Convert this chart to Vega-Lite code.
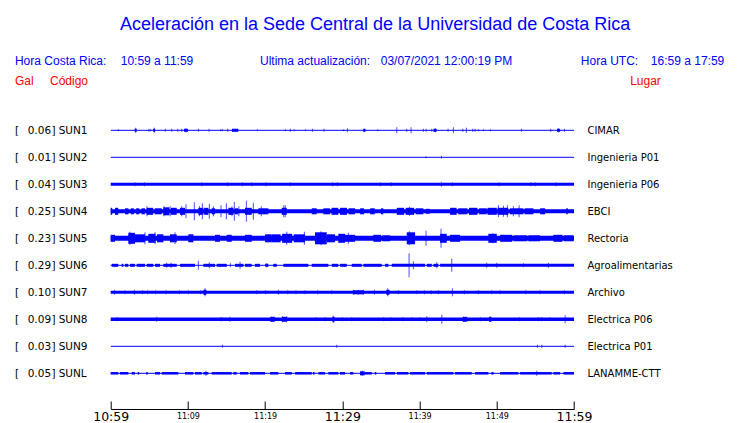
{
  "$schema": "https://vega.github.io/schema/vega-lite/v6.json",
  "width": 463.3,
  "height": 409,
  "autosize": "none",
  "padding": {"left": 110.7, "top": 0, "right": 166, "bottom": 14},
  "background": "white",
  "config": {"view": {"stroke": null}, "axis": {"grid": false}},
  "datasets": {
    "st": [
      {"s": "SUN1", "r": 1, "g": 0.06, "l": "CIMAR"},
      {"s": "SUN2", "r": 2, "g": 0.01, "l": "Ingenieria P01"},
      {"s": "SUN3", "r": 3, "g": 0.04, "l": "Ingenieria P06"},
      {"s": "SUN4", "r": 4, "g": 0.25, "l": "EBCI"},
      {"s": "SUN5", "r": 5, "g": 0.23, "l": "Rectoria"},
      {"s": "SUN6", "r": 6, "g": 0.29, "l": "Agroalimentarias"},
      {"s": "SUN7", "r": 7, "g": 0.10, "l": "Archivo"},
      {"s": "SUN8", "r": 8, "g": 0.09, "l": "Electrica P06"},
      {"s": "SUN9", "r": 9, "g": 0.03, "l": "Electrica P01"},
      {"s": "SUNL", "r": 10, "g": 0.05, "l": "LANAMME-CTT"}
    ],
    "seg": [
      {"s": "SUN1", "t0": 0, "t1": 60, "a": 1},
      {"s": "SUN1", "t0": 9.5, "t1": 10.0, "a": 3},
      {"s": "SUN1", "t0": 15.7, "t1": 16.5, "a": 3},
      {"s": "SUN1", "t0": 32.7, "t1": 33.0, "a": 3},
      {"s": "SUN1", "t0": 41.8, "t1": 42.2, "a": 3},
      {"s": "SUN1", "t0": 57.8, "t1": 58.2, "a": 3},
      {"s": "SUN1", "t0": 3.1, "t1": 3.35, "a": 3},
      {"s": "SUN1", "t0": 5.5, "t1": 5.75, "a": 3},
      {"s": "SUN2", "t0": 0, "t1": 60, "a": 1},
      {"s": "SUN3", "t0": 0, "t1": 60, "a": 3},
      {"s": "SUN4", "t0": 0, "t1": 60, "a": 4},
      {"s": "SUN4", "t0": 0, "t1": 0.2, "a": 7},
      {"s": "SUN4", "t0": 0.56, "t1": 0.98, "a": 7},
      {"s": "SUN4", "t0": 1.85, "t1": 2.3, "a": 6},
      {"s": "SUN4", "t0": 2.6, "t1": 3.0, "a": 6},
      {"s": "SUN4", "t0": 3.3, "t1": 3.7, "a": 6},
      {"s": "SUN4", "t0": 4.0, "t1": 4.44, "a": 6},
      {"s": "SUN4", "t0": 4.66, "t1": 5.5, "a": 7},
      {"s": "SUN4", "t0": 5.7, "t1": 6.61, "a": 6},
      {"s": "SUN4", "t0": 6.82, "t1": 7.6, "a": 8},
      {"s": "SUN4", "t0": 7.8, "t1": 8.55, "a": 7},
      {"s": "SUN4", "t0": 8.98, "t1": 9.62, "a": 7},
      {"s": "SUN4", "t0": 11.35, "t1": 12.0, "a": 7},
      {"s": "SUN4", "t0": 12.1, "t1": 12.65, "a": 7},
      {"s": "SUN4", "t0": 13.08, "t1": 13.51, "a": 6},
      {"s": "SUN4", "t0": 15.24, "t1": 15.9, "a": 7},
      {"s": "SUN4", "t0": 16.1, "t1": 16.53, "a": 6},
      {"s": "SUN4", "t0": 17.40, "t1": 18.26, "a": 7},
      {"s": "SUN4", "t0": 19.12, "t1": 20.42, "a": 6},
      {"s": "SUN4", "t0": 22.15, "t1": 22.80, "a": 7},
      {"s": "SUN4", "t0": 26.04, "t1": 26.68, "a": 6},
      {"s": "SUN4", "t0": 27.54, "t1": 28.4, "a": 6},
      {"s": "SUN4", "t0": 28.6, "t1": 29.48, "a": 7},
      {"s": "SUN4", "t0": 29.70, "t1": 30.6, "a": 7},
      {"s": "SUN4", "t0": 30.8, "t1": 31.65, "a": 6},
      {"s": "SUN4", "t0": 32.3, "t1": 32.8, "a": 6},
      {"s": "SUN4", "t0": 33.6, "t1": 34.2, "a": 6},
      {"s": "SUN4", "t0": 35.0, "t1": 35.3, "a": 6},
      {"s": "SUN4", "t0": 37.05, "t1": 38.0, "a": 7},
      {"s": "SUN4", "t0": 38.2, "t1": 39.3, "a": 7},
      {"s": "SUN4", "t0": 39.5, "t1": 40.49, "a": 6},
      {"s": "SUN4", "t0": 40.8, "t1": 41.3, "a": 5},
      {"s": "SUN4", "t0": 43.95, "t1": 44.8, "a": 7},
      {"s": "SUN4", "t0": 45.0, "t1": 46.2, "a": 6},
      {"s": "SUN4", "t0": 46.4, "t1": 47.5, "a": 7},
      {"s": "SUN4", "t0": 47.7, "t1": 48.7, "a": 6},
      {"s": "SUN4", "t0": 48.8, "t1": 50.0, "a": 7},
      {"s": "SUN4", "t0": 50.1, "t1": 51.5, "a": 7},
      {"s": "SUN4", "t0": 51.7, "t1": 53.45, "a": 6},
      {"s": "SUN4", "t0": 53.6, "t1": 54.74, "a": 6},
      {"s": "SUN4", "t0": 55.61, "t1": 56.26, "a": 6},
      {"s": "SUN4", "t0": 59.0, "t1": 59.2, "a": 6},
      {"s": "SUN5", "t0": 0, "t1": 60, "a": 5},
      {"s": "SUN5", "t0": 0, "t1": 0.56, "a": 7},
      {"s": "SUN5", "t0": 2.28, "t1": 3.15, "a": 11},
      {"s": "SUN5", "t0": 3.15, "t1": 4.44, "a": 8},
      {"s": "SUN5", "t0": 4.87, "t1": 5.8, "a": 9},
      {"s": "SUN5", "t0": 6.0, "t1": 6.82, "a": 8},
      {"s": "SUN5", "t0": 7.68, "t1": 8.55, "a": 8},
      {"s": "SUN5", "t0": 10.05, "t1": 10.70, "a": 8},
      {"s": "SUN5", "t0": 13.51, "t1": 14.16, "a": 7},
      {"s": "SUN5", "t0": 15.03, "t1": 15.67, "a": 7},
      {"s": "SUN5", "t0": 17.40, "t1": 18.26, "a": 7},
      {"s": "SUN5", "t0": 19.99, "t1": 20.85, "a": 8},
      {"s": "SUN5", "t0": 20.85, "t1": 22.0, "a": 8},
      {"s": "SUN5", "t0": 22.2, "t1": 23.5, "a": 9},
      {"s": "SUN5", "t0": 23.7, "t1": 25.17, "a": 8},
      {"s": "SUN5", "t0": 26.46, "t1": 27.98, "a": 12},
      {"s": "SUN5", "t0": 27.98, "t1": 29.05, "a": 8},
      {"s": "SUN5", "t0": 29.48, "t1": 30.35, "a": 9},
      {"s": "SUN5", "t0": 30.35, "t1": 31.65, "a": 7},
      {"s": "SUN5", "t0": 34.02, "t1": 35.0, "a": 7},
      {"s": "SUN5", "t0": 35.2, "t1": 36.18, "a": 6},
      {"s": "SUN5", "t0": 38.34, "t1": 39.42, "a": 12},
      {"s": "SUN5", "t0": 42.66, "t1": 43.52, "a": 9},
      {"s": "SUN5", "t0": 43.95, "t1": 45.25, "a": 7},
      {"s": "SUN5", "t0": 48.91, "t1": 50.0, "a": 9},
      {"s": "SUN5", "t0": 50.43, "t1": 52.0, "a": 7},
      {"s": "SUN5", "t0": 52.2, "t1": 53.89, "a": 6},
      {"s": "SUN5", "t0": 54.1, "t1": 55.61, "a": 6},
      {"s": "SUN5", "t0": 57.33, "t1": 58.5, "a": 7},
      {"s": "SUN5", "t0": 58.7, "t1": 59.92, "a": 6},
      {"s": "SUN6", "t0": 0, "t1": 60, "a": 1},
      {"s": "SUN6", "t0": 0.13, "t1": 0.98, "a": 3},
      {"s": "SUN6", "t0": 1.42, "t1": 1.64, "a": 3},
      {"s": "SUN6", "t0": 1.85, "t1": 2.28, "a": 3},
      {"s": "SUN6", "t0": 2.50, "t1": 3.15, "a": 3},
      {"s": "SUN6", "t0": 3.37, "t1": 4.44, "a": 3},
      {"s": "SUN6", "t0": 4.66, "t1": 5.52, "a": 3},
      {"s": "SUN6", "t0": 5.74, "t1": 6.39, "a": 3},
      {"s": "SUN6", "t0": 6.82, "t1": 8.55, "a": 3},
      {"s": "SUN6", "t0": 8.98, "t1": 10.92, "a": 3},
      {"s": "SUN6", "t0": 12.00, "t1": 13.51, "a": 3},
      {"s": "SUN6", "t0": 13.73, "t1": 15.03, "a": 3},
      {"s": "SUN6", "t0": 16.10, "t1": 17.18, "a": 3},
      {"s": "SUN6", "t0": 17.40, "t1": 18.26, "a": 3},
      {"s": "SUN6", "t0": 18.69, "t1": 19.34, "a": 3},
      {"s": "SUN6", "t0": 19.99, "t1": 20.42, "a": 3},
      {"s": "SUN6", "t0": 21.06, "t1": 21.50, "a": 3},
      {"s": "SUN6", "t0": 22.36, "t1": 25.60, "a": 3},
      {"s": "SUN6", "t0": 26.04, "t1": 28.19, "a": 3},
      {"s": "SUN6", "t0": 28.63, "t1": 29.48, "a": 3},
      {"s": "SUN6", "t0": 29.70, "t1": 30.57, "a": 3},
      {"s": "SUN6", "t0": 31.22, "t1": 32.51, "a": 3},
      {"s": "SUN6", "t0": 32.72, "t1": 35.10, "a": 3},
      {"s": "SUN6", "t0": 35.53, "t1": 35.96, "a": 3},
      {"s": "SUN6", "t0": 36.40, "t1": 40.71, "a": 3},
      {"s": "SUN6", "t0": 40.93, "t1": 41.58, "a": 3},
      {"s": "SUN6", "t0": 41.80, "t1": 42.44, "a": 3},
      {"s": "SUN6", "t0": 42.66, "t1": 60, "a": 3},
      {"s": "SUN7", "t0": 0, "t1": 60, "a": 3},
      {"s": "SUN7", "t0": 12.0, "t1": 12.4, "a": 5},
      {"s": "SUN7", "t0": 31.4, "t1": 32.8, "a": 4},
      {"s": "SUN7", "t0": 35.7, "t1": 36.1, "a": 5},
      {"s": "SUN8", "t0": 0, "t1": 60, "a": 3.5},
      {"s": "SUN8", "t0": 20.7, "t1": 21.2, "a": 5},
      {"s": "SUN8", "t0": 22.2, "t1": 22.8, "a": 5},
      {"s": "SUN8", "t0": 28.7, "t1": 29.0, "a": 5},
      {"s": "SUN8", "t0": 45.6, "t1": 46.1, "a": 5},
      {"s": "SUN8", "t0": 49.0, "t1": 49.3, "a": 5},
      {"s": "SUN9", "t0": 0, "t1": 60, "a": 1},
      {"s": "SUNL", "t0": 0, "t1": 60, "a": 1},
      {"s": "SUNL", "t0": 0, "t1": 0.98, "a": 2.5},
      {"s": "SUNL", "t0": 1.20, "t1": 2.28, "a": 2.5},
      {"s": "SUNL", "t0": 2.72, "t1": 3.15, "a": 2.5},
      {"s": "SUNL", "t0": 3.5, "t1": 3.7, "a": 2.5},
      {"s": "SUNL", "t0": 4.6, "t1": 4.8, "a": 2.5},
      {"s": "SUNL", "t0": 5.74, "t1": 6.39, "a": 2.5},
      {"s": "SUNL", "t0": 6.61, "t1": 8.76, "a": 2.5},
      {"s": "SUNL", "t0": 9.62, "t1": 10.70, "a": 2.5},
      {"s": "SUNL", "t0": 10.92, "t1": 11.79, "a": 2.5},
      {"s": "SUNL", "t0": 12.00, "t1": 12.65, "a": 2.5},
      {"s": "SUNL", "t0": 13.08, "t1": 15.67, "a": 2.5},
      {"s": "SUNL", "t0": 15.88, "t1": 16.32, "a": 2.5},
      {"s": "SUNL", "t0": 16.75, "t1": 17.82, "a": 2.5},
      {"s": "SUNL", "t0": 18.04, "t1": 19.99, "a": 2.5},
      {"s": "SUNL", "t0": 20.64, "t1": 21.71, "a": 2.5},
      {"s": "SUNL", "t0": 22.58, "t1": 23.45, "a": 2.5},
      {"s": "SUNL", "t0": 23.87, "t1": 26.04, "a": 2.5},
      {"s": "SUNL", "t0": 26.2, "t1": 26.4, "a": 2.5},
      {"s": "SUNL", "t0": 26.89, "t1": 27.76, "a": 2.5},
      {"s": "SUNL", "t0": 28.19, "t1": 29.48, "a": 2.5},
      {"s": "SUNL", "t0": 29.70, "t1": 30.35, "a": 2.5},
      {"s": "SUNL", "t0": 31.00, "t1": 31.43, "a": 2.5},
      {"s": "SUNL", "t0": 32.29, "t1": 32.9, "a": 4},
      {"s": "SUNL", "t0": 32.9, "t1": 33.81, "a": 2.5},
      {"s": "SUNL", "t0": 34.2, "t1": 34.4, "a": 2.5},
      {"s": "SUNL", "t0": 35.53, "t1": 36.83, "a": 2.5},
      {"s": "SUNL", "t0": 37.05, "t1": 38.55, "a": 2.5},
      {"s": "SUNL", "t0": 38.77, "t1": 40.71, "a": 2.5},
      {"s": "SUNL", "t0": 40.93, "t1": 44.38, "a": 2.5},
      {"s": "SUNL", "t0": 44.60, "t1": 46.76, "a": 2.5},
      {"s": "SUNL", "t0": 47.19, "t1": 48.91, "a": 2.5},
      {"s": "SUNL", "t0": 49.3, "t1": 49.6, "a": 2.5},
      {"s": "SUNL", "t0": 50.43, "t1": 52.80, "a": 2.5},
      {"s": "SUNL", "t0": 53.02, "t1": 57.12, "a": 2.5},
      {"s": "SUNL", "t0": 57.33, "t1": 58.20, "a": 2.5},
      {"s": "SUNL", "t0": 58.63, "t1": 60, "a": 2.5}
    ],
    "spk": [
      {"s": "SUN1", "t": 0.98, "a": 2}, {"s": "SUN1", "t": 3.24, "a": 5}, {"s": "SUN1", "t": 4.96, "a": 3}, {"s": "SUN1", "t": 5.18, "a": 2},
      {"s": "SUN1", "t": 5.65, "a": 5}, {"s": "SUN1", "t": 7.07, "a": 3}, {"s": "SUN1", "t": 7.90, "a": 3}, {"s": "SUN1", "t": 8.68, "a": 3},
      {"s": "SUN1", "t": 9.20, "a": 3}, {"s": "SUN1", "t": 9.75, "a": 4}, {"s": "SUN1", "t": 11.35, "a": 3}, {"s": "SUN1", "t": 12.73, "a": 3},
      {"s": "SUN1", "t": 14.25, "a": 2}, {"s": "SUN1", "t": 14.46, "a": 2}, {"s": "SUN1", "t": 15.15, "a": 3}, {"s": "SUN1", "t": 15.80, "a": 3},
      {"s": "SUN1", "t": 16.10, "a": 3}, {"s": "SUN1", "t": 16.45, "a": 3}, {"s": "SUN1", "t": 18.99, "a": 2}, {"s": "SUN1", "t": 22.62, "a": 2},
      {"s": "SUN1", "t": 23.26, "a": 3}, {"s": "SUN1", "t": 23.74, "a": 2}, {"s": "SUN1", "t": 25.21, "a": 2}, {"s": "SUN1", "t": 26.12, "a": 3},
      {"s": "SUN1", "t": 27.63, "a": 3}, {"s": "SUN1", "t": 30.18, "a": 2}, {"s": "SUN1", "t": 30.65, "a": 4}, {"s": "SUN1", "t": 32.85, "a": 3},
      {"s": "SUN1", "t": 34.59, "a": 2}, {"s": "SUN1", "t": 37.05, "a": 6}, {"s": "SUN1", "t": 38.34, "a": 3}, {"s": "SUN1", "t": 38.90, "a": 6},
      {"s": "SUN1", "t": 40.49, "a": 3}, {"s": "SUN1", "t": 40.84, "a": 3}, {"s": "SUN1", "t": 41.58, "a": 3}, {"s": "SUN1", "t": 42.05, "a": 4},
      {"s": "SUN1", "t": 43.69, "a": 3}, {"s": "SUN1", "t": 44.38, "a": 6}, {"s": "SUN1", "t": 45.60, "a": 3}, {"s": "SUN1", "t": 46.06, "a": 5},
      {"s": "SUN1", "t": 46.89, "a": 3}, {"s": "SUN1", "t": 47.19, "a": 3}, {"s": "SUN1", "t": 47.62, "a": 2}, {"s": "SUN1", "t": 48.27, "a": 2},
      {"s": "SUN1", "t": 49.17, "a": 2}, {"s": "SUN1", "t": 53.19, "a": 3}, {"s": "SUN1", "t": 56.99, "a": 3}, {"s": "SUN1", "t": 57.98, "a": 4},
      {"s": "SUN1", "t": 58.76, "a": 3},
      {"s": "SUN2", "t": 40.84, "a": 2}, {"s": "SUN2", "t": 42.83, "a": 3},
      {"s": "SUN3", "t": 3.15, "a": 4}, {"s": "SUN3", "t": 4.36, "a": 4}, {"s": "SUN3", "t": 11.79, "a": 4}, {"s": "SUN3", "t": 15.15, "a": 4},
      {"s": "SUN3", "t": 17.05, "a": 4}, {"s": "SUN3", "t": 18.26, "a": 4}, {"s": "SUN3", "t": 20.12, "a": 4}, {"s": "SUN3", "t": 23.26, "a": 4},
      {"s": "SUN3", "t": 28.75, "a": 4}, {"s": "SUN3", "t": 29.35, "a": 4}, {"s": "SUN3", "t": 34.92, "a": 4}, {"s": "SUN3", "t": 36.31, "a": 4},
      {"s": "SUN3", "t": 42.83, "a": 5}, {"s": "SUN3", "t": 44.25, "a": 4}, {"s": "SUN3", "t": 50.30, "a": 4}, {"s": "SUN3", "t": 54.44, "a": 4},
      {"s": "SUN3", "t": 54.96, "a": 4}, {"s": "SUN3", "t": 57.64, "a": 4},
      {"s": "SUN4", "t": 4.7, "a": 10}, {"s": "SUN4", "t": 6.9, "a": 10}, {"s": "SUN4", "t": 7.7, "a": 10}, {"s": "SUN4", "t": 9.2, "a": 10},
      {"s": "SUN4", "t": 9.75, "a": 14}, {"s": "SUN4", "t": 10.83, "a": 18}, {"s": "SUN4", "t": 11.5, "a": 10}, {"s": "SUN4", "t": 11.87, "a": 16},
      {"s": "SUN4", "t": 12.77, "a": 15}, {"s": "SUN4", "t": 13.3, "a": 10}, {"s": "SUN4", "t": 14.29, "a": 12}, {"s": "SUN4", "t": 14.98, "a": 16},
      {"s": "SUN4", "t": 15.7, "a": 10}, {"s": "SUN4", "t": 16.01, "a": 19}, {"s": "SUN4", "t": 16.6, "a": 10}, {"s": "SUN4", "t": 17.57, "a": 21},
      {"s": "SUN4", "t": 18.47, "a": 17}, {"s": "SUN4", "t": 19.5, "a": 10}, {"s": "SUN4", "t": 22.41, "a": 12}, {"s": "SUN4", "t": 22.6, "a": 12},
      {"s": "SUN4", "t": 38.68, "a": 9}, {"s": "SUN4", "t": 50.21, "a": 12}, {"s": "SUN4", "t": 50.86, "a": 11}, {"s": "SUN4", "t": 51.37, "a": 12},
      {"s": "SUN4", "t": 52.15, "a": 10}, {"s": "SUN4", "t": 52.89, "a": 12},
      {"s": "SUN5", "t": 2.50, "a": 13}, {"s": "SUN5", "t": 4.44, "a": 12}, {"s": "SUN5", "t": 5.74, "a": 12}, {"s": "SUN5", "t": 8.33, "a": 12},
      {"s": "SUN5", "t": 22.80, "a": 13}, {"s": "SUN5", "t": 25.08, "a": 13}, {"s": "SUN5", "t": 27.24, "a": 14}, {"s": "SUN5", "t": 30.78, "a": 11},
      {"s": "SUN5", "t": 38.68, "a": 14}, {"s": "SUN5", "t": 40.84, "a": 15}, {"s": "SUN5", "t": 42.78, "a": 19}, {"s": "SUN5", "t": 49.48, "a": 10},
      {"s": "SUN6", "t": 7.25, "a": 5}, {"s": "SUN6", "t": 7.81, "a": 5}, {"s": "SUN6", "t": 11.35, "a": 9}, {"s": "SUN6", "t": 12.77, "a": 6},
      {"s": "SUN6", "t": 15.5, "a": 4}, {"s": "SUN6", "t": 16.75, "a": 7}, {"s": "SUN6", "t": 20.2, "a": 4}, {"s": "SUN6", "t": 38.64, "a": 24},
      {"s": "SUN6", "t": 39.20, "a": 8}, {"s": "SUN6", "t": 42.23, "a": 6}, {"s": "SUN6", "t": 44.17, "a": 13}, {"s": "SUN6", "t": 48.70, "a": 5},
      {"s": "SUN6", "t": 50.00, "a": 5}, {"s": "SUN6", "t": 53.45, "a": 4}, {"s": "SUN6", "t": 56.68, "a": 5},
      {"s": "SUN7", "t": 0.47, "a": 5}, {"s": "SUN7", "t": 1.85, "a": 4}, {"s": "SUN7", "t": 3.06, "a": 5}, {"s": "SUN7", "t": 4.10, "a": 4},
      {"s": "SUN7", "t": 4.79, "a": 4}, {"s": "SUN7", "t": 5.83, "a": 4}, {"s": "SUN7", "t": 7.16, "a": 4}, {"s": "SUN7", "t": 8.89, "a": 4},
      {"s": "SUN7", "t": 10.05, "a": 4}, {"s": "SUN7", "t": 11.65, "a": 4}, {"s": "SUN7", "t": 12.21, "a": 8}, {"s": "SUN7", "t": 18.91, "a": 4},
      {"s": "SUN7", "t": 20.07, "a": 4}, {"s": "SUN7", "t": 21.71, "a": 5}, {"s": "SUN7", "t": 22.93, "a": 4}, {"s": "SUN7", "t": 24.00, "a": 4},
      {"s": "SUN7", "t": 25.17, "a": 4}, {"s": "SUN7", "t": 26.81, "a": 4}, {"s": "SUN7", "t": 28.63, "a": 4}, {"s": "SUN7", "t": 31.43, "a": 5},
      {"s": "SUN7", "t": 32.07, "a": 5}, {"s": "SUN7", "t": 32.72, "a": 5}, {"s": "SUN7", "t": 34.15, "a": 5}, {"s": "SUN7", "t": 35.88, "a": 8},
      {"s": "SUN7", "t": 37.26, "a": 4}, {"s": "SUN7", "t": 39.64, "a": 4}, {"s": "SUN7", "t": 40.62, "a": 4}, {"s": "SUN7", "t": 41.49, "a": 4},
      {"s": "SUN7", "t": 42.44, "a": 4}, {"s": "SUN7", "t": 44.25, "a": 8}, {"s": "SUN7", "t": 45.80, "a": 4}, {"s": "SUN7", "t": 47.62, "a": 4},
      {"s": "SUN7", "t": 49.35, "a": 4}, {"s": "SUN7", "t": 50.43, "a": 4}, {"s": "SUN7", "t": 53.76, "a": 4}, {"s": "SUN7", "t": 55.61, "a": 4},
      {"s": "SUN7", "t": 58.76, "a": 4},
      {"s": "SUN8", "t": 0.86, "a": 4}, {"s": "SUN8", "t": 5.96, "a": 5}, {"s": "SUN8", "t": 14.25, "a": 4}, {"s": "SUN8", "t": 14.46, "a": 4},
      {"s": "SUN8", "t": 15.45, "a": 5}, {"s": "SUN8", "t": 20.76, "a": 5}, {"s": "SUN8", "t": 21.19, "a": 5}, {"s": "SUN8", "t": 22.23, "a": 6},
      {"s": "SUN8", "t": 22.80, "a": 6}, {"s": "SUN8", "t": 26.55, "a": 4}, {"s": "SUN8", "t": 27.80, "a": 4}, {"s": "SUN8", "t": 28.83, "a": 7},
      {"s": "SUN8", "t": 30.00, "a": 4}, {"s": "SUN8", "t": 31.22, "a": 4}, {"s": "SUN8", "t": 35.31, "a": 4}, {"s": "SUN8", "t": 36.27, "a": 4},
      {"s": "SUN8", "t": 37.82, "a": 4}, {"s": "SUN8", "t": 38.99, "a": 4}, {"s": "SUN8", "t": 40.07, "a": 4}, {"s": "SUN8", "t": 40.93, "a": 6},
      {"s": "SUN8", "t": 42.88, "a": 9}, {"s": "SUN8", "t": 45.67, "a": 5}, {"s": "SUN8", "t": 46.11, "a": 5}, {"s": "SUN8", "t": 47.88, "a": 4},
      {"s": "SUN8", "t": 49.13, "a": 5}, {"s": "SUN8", "t": 52.93, "a": 4}, {"s": "SUN8", "t": 55.39, "a": 4}, {"s": "SUN8", "t": 55.83, "a": 4},
      {"s": "SUN8", "t": 56.90, "a": 4}, {"s": "SUN8", "t": 58.85, "a": 8},
      {"s": "SUN9", "t": 14.46, "a": 3}, {"s": "SUN9", "t": 29.27, "a": 3}, {"s": "SUN9", "t": 55.26, "a": 3}, {"s": "SUN9", "t": 55.83, "a": 3},
      {"s": "SUN9", "t": 58.85, "a": 3},
      {"s": "SUNL", "t": 12.34, "a": 5}, {"s": "SUNL", "t": 32.59, "a": 5}, {"s": "SUNL", "t": 55.18, "a": 5}
    ]
  },
  "layer": [
    {
      "data": {"name": "seg"},
      "transform": [{"lookup": "s", "from": {"data": {"name": "st"}, "key": "s", "fields": ["r"]}}],
      "mark": {"type": "rule", "color": "#0000ff", "strokeCap": "butt"},
      "encoding": {
        "x": {
          "field": "t0", "type": "quantitative",
          "scale": {"domain": [0, 60], "nice": false, "zero": false},
          "axis": {
            "values": [0, 5, 10, 15, 20, 25, 30, 35, 40, 45, 50, 55, 60],
            "title": null, "grid": false,
            "domain": true, "domainColor": "black", "domainWidth": 1,
            "ticks": true, "tickSize": -8, "tickColor": "black", "tickWidth": 1,
            "labelExpr": "datum.value == 0 ? '10:59' : (datum.value % 10 == 0 ? '11:' + (datum.value < 11 ? '0' : '') + (datum.value - 1) : '')",
            "labelFont": "DejaVu Sans", "labelColor": "black",
            "labelFontSize": {"condition": {"test": "datum.value % 30 == 0", "value": 12.5}, "value": 8},
            "labelBaseline": "middle",
            "labelPadding": 15, "labelFlush": false, "labelOverlap": false, "labelBound": false
          }
        },
        "x2": {"field": "t1"},
        "y": {"field": "r", "type": "quantitative", "scale": {"domain": [-3.826, 11.322], "reverse": true, "nice": false, "zero": false}, "axis": null},
        "size": {"field": "a", "type": "quantitative", "scale": {"domain": [0, 24], "range": [0, 24], "zero": true}, "legend": null}
      }
    },
    {
      "data": {"name": "spk"},
      "transform": [{"lookup": "s", "from": {"data": {"name": "st"}, "key": "s", "fields": ["r"]}}],
      "mark": {"type": "tick", "orient": "vertical", "thickness": 1, "color": "#0000ff"},
      "encoding": {
        "x": {"field": "t", "type": "quantitative"},
        "y": {"field": "r", "type": "quantitative"},
        "size": {"field": "a", "type": "quantitative", "legend": null}
      }
    },
    {
      "data": {"name": "st"},
      "mark": {"type": "text", "font": "DejaVu Sans", "fontSize": 10.5, "color": "black", "align": "left", "baseline": "alphabetic", "dy": 3.7},
      "encoding": {"x": {"datum": -12.4, "type": "quantitative"}, "y": {"field": "r", "type": "quantitative"}, "text": {"value": "["}}
    },
    {
      "data": {"name": "st"},
      "mark": {"type": "text", "font": "DejaVu Sans", "fontSize": 10.5, "color": "black", "align": "left", "baseline": "alphabetic", "dy": 3.7},
      "encoding": {"x": {"datum": -10.75, "type": "quantitative"}, "y": {"field": "r", "type": "quantitative"}, "text": {"field": "g", "type": "quantitative", "format": ".2f"}}
    },
    {
      "data": {"name": "st"},
      "mark": {"type": "text", "font": "DejaVu Sans", "fontSize": 10.5, "color": "black", "align": "left", "baseline": "alphabetic", "dy": 3.7},
      "encoding": {"x": {"datum": -7.67, "type": "quantitative"}, "y": {"field": "r", "type": "quantitative"}, "text": {"value": "]"}}
    },
    {
      "data": {"name": "st"},
      "mark": {"type": "text", "font": "DejaVu Sans", "fontSize": 10.5, "color": "black", "align": "left", "baseline": "alphabetic", "dy": 3.7},
      "encoding": {"x": {"datum": -6.74, "type": "quantitative"}, "y": {"field": "r", "type": "quantitative"}, "text": {"field": "s"}}
    },
    {
      "data": {"name": "st"},
      "mark": {"type": "text", "font": "DejaVu Sans", "fontSize": 10, "color": "black", "align": "left", "baseline": "alphabetic", "dy": 3.7},
      "encoding": {"x": {"datum": 61.74, "type": "quantitative"}, "y": {"field": "r", "type": "quantitative"}, "text": {"field": "l"}}
    },
    {
      "data": {"values": [{}]},
      "mark": {"type": "text", "font": "Liberation Sans", "fontSize": 18, "color": "#0000ff", "align": "center", "baseline": "alphabetic"},
      "encoding": {"x": {"datum": 34.24, "type": "quantitative"}, "y": {"datum": -2.733, "type": "quantitative"}, "text": {"value": "Aceleración en la Sede Central de la Universidad de Costa Rica"}}
    },
    {
      "data": {"values": [{}]},
      "mark": {"type": "text", "font": "Liberation Sans", "fontSize": 12, "color": "#0000ff", "align": "left", "baseline": "alphabetic"},
      "encoding": {"x": {"datum": -12.4, "type": "quantitative"}, "y": {"datum": -1.407, "type": "quantitative"}, "text": {"value": "Hora Costa Rica:"}}
    },
    {
      "data": {"values": [{}]},
      "mark": {"type": "text", "font": "Liberation Sans", "fontSize": 12, "color": "#0000ff", "align": "left", "baseline": "alphabetic"},
      "encoding": {"x": {"datum": 1.30, "type": "quantitative"}, "y": {"datum": -1.407, "type": "quantitative"}, "text": {"value": "10:59 a 11:59"}}
    },
    {
      "data": {"values": [{}]},
      "mark": {"type": "text", "font": "Liberation Sans", "fontSize": 12, "color": "#0000ff", "align": "left", "baseline": "alphabetic"},
      "encoding": {"x": {"datum": 19.34, "type": "quantitative"}, "y": {"datum": -1.407, "type": "quantitative"}, "text": {"value": "Ultima actualización:"}}
    },
    {
      "data": {"values": [{}]},
      "mark": {"type": "text", "font": "Liberation Sans", "fontSize": 12, "color": "#0000ff", "align": "left", "baseline": "alphabetic"},
      "encoding": {"x": {"datum": 34.97, "type": "quantitative"}, "y": {"datum": -1.407, "type": "quantitative"}, "text": {"value": "03/07/2021 12:00:19 PM"}}
    },
    {
      "data": {"values": [{}]},
      "mark": {"type": "text", "font": "Liberation Sans", "fontSize": 12, "color": "#0000ff", "align": "left", "baseline": "alphabetic"},
      "encoding": {"x": {"datum": 60.88, "type": "quantitative"}, "y": {"datum": -1.407, "type": "quantitative"}, "text": {"value": "Hora UTC:"}}
    },
    {
      "data": {"values": [{}]},
      "mark": {"type": "text", "font": "Liberation Sans", "fontSize": 12, "color": "#0000ff", "align": "left", "baseline": "alphabetic"},
      "encoding": {"x": {"datum": 69.95, "type": "quantitative"}, "y": {"datum": -1.407, "type": "quantitative"}, "text": {"value": "16:59 a 17:59"}}
    },
    {
      "data": {"values": [{}]},
      "mark": {"type": "text", "font": "Liberation Sans", "fontSize": 12, "color": "#ff0000", "align": "left", "baseline": "alphabetic"},
      "encoding": {"x": {"datum": -12.4, "type": "quantitative"}, "y": {"datum": -0.667, "type": "quantitative"}, "text": {"value": "Gal"}}
    },
    {
      "data": {"values": [{}]},
      "mark": {"type": "text", "font": "Liberation Sans", "fontSize": 12, "color": "#ff0000", "align": "left", "baseline": "alphabetic"},
      "encoding": {"x": {"datum": -7.86, "type": "quantitative"}, "y": {"datum": -0.667, "type": "quantitative"}, "text": {"value": "Código"}}
    },
    {
      "data": {"values": [{}]},
      "mark": {"type": "text", "font": "Liberation Sans", "fontSize": 12, "color": "#ff0000", "align": "left", "baseline": "alphabetic"},
      "encoding": {"x": {"datum": 67.27, "type": "quantitative"}, "y": {"datum": -0.667, "type": "quantitative"}, "text": {"value": "Lugar"}}
    }
  ]
}
